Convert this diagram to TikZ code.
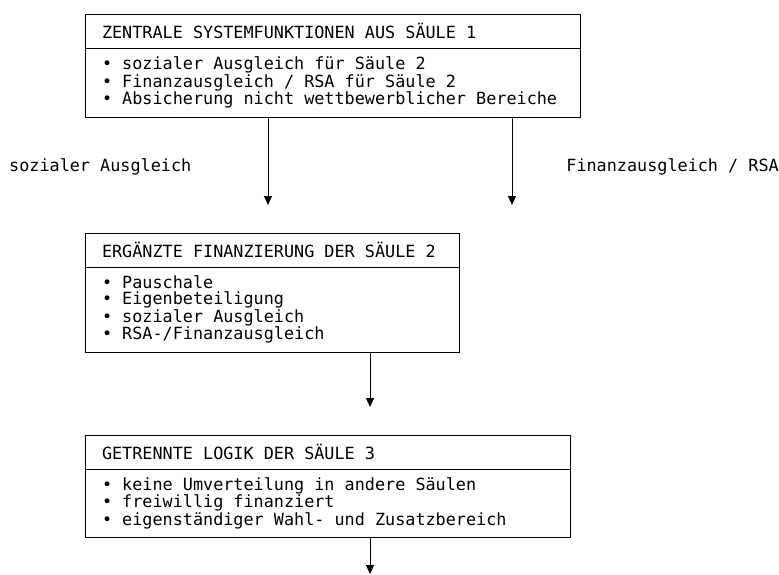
\documentclass[tikz,border=0pt]{standalone}
\usepackage{fontspec}
\setmonofont{DejaVu Sans Mono}
\usetikzlibrary{positioning,arrows.meta}

\begin{document}
\begin{tikzpicture}[x=1pt, y=-1pt, node distance=0pt,
    font=\ttfamily\fontsize{16.8}{16.3}\selectfont]
    % Define block styles
    \tikzstyle{head} = [rectangle, draw, line width=0.9pt, outer sep=0pt,
        inner xsep=17pt, inner ysep=0pt, minimum height=34pt, align=left,
        execute at begin node={\spaceskip=0pt\xspaceskip=0pt}]
    \tikzstyle{body} = [head]
    \tikzstyle{line} = [draw, line width=0.9pt, -{Triangle[width=8pt,length=9pt]}]
    \tikzstyle{lbl} = [inner sep=0pt]

    \useasboundingbox (0,0) rectangle (779,575);

    % Place nodes
    \node [head, text width=461pt, anchor=north west] (top) at (85,14)
        {ZENTRALE SYSTEMFUNKTIONEN AUS SÄULE 1};
    \node [body, text width=461pt, minimum height=69pt, below=of top] (topbody)
        {• sozialer Ausgleich für Säule 2\\
         • Finanzausgleich / RSA für Säule 2\\
         • Absicherung nicht wettbewerblicher Bereiche};

    \node [head, text width=340pt, anchor=north west] (mid) at (85,233)
        {ERGÄNZTE FINANZIERUNG DER SÄULE 2};
    \node [body, text width=340pt, minimum height=85pt, below=of mid] (midbody)
        {• Pauschale\\
         • Eigenbeteiligung\\
         • sozialer Ausgleich\\
         • RSA-/Finanzausgleich};

    \node [head, text width=451pt, anchor=north west] (low) at (85,435)
        {GETRENNTE LOGIK DER SÄULE 3};
    \node [body, text width=451pt, minimum height=68pt, below=of low] (lowbody)
        {• keine Umverteilung in andere Säulen\\
         • freiwillig finanziert\\
         • eigenständiger Wahl- und Zusatzbereich};

    \node [lbl, anchor=west] (sozlbl) at (9,167) {sozialer Ausgleich};
    \node [lbl, anchor=east] (finlbl) at (779,167) {Finanzausgleich / RSA};

    % Arrow ends
    \coordinate (soz) at (268,205);
    \coordinate (fin) at (512,205);
    \coordinate (zu3) at (370,407);
    \coordinate (aus) at (370,574);

    % Draw edges
    \path [line] (topbody.south -| soz) -- (soz);
    \path [line] (topbody.south -| fin) -- (fin);
    \path [line] (midbody.south -| zu3) -- (zu3);
    \path [line] (lowbody.south -| aus) -- (aus);
\end{tikzpicture}
\end{document}
